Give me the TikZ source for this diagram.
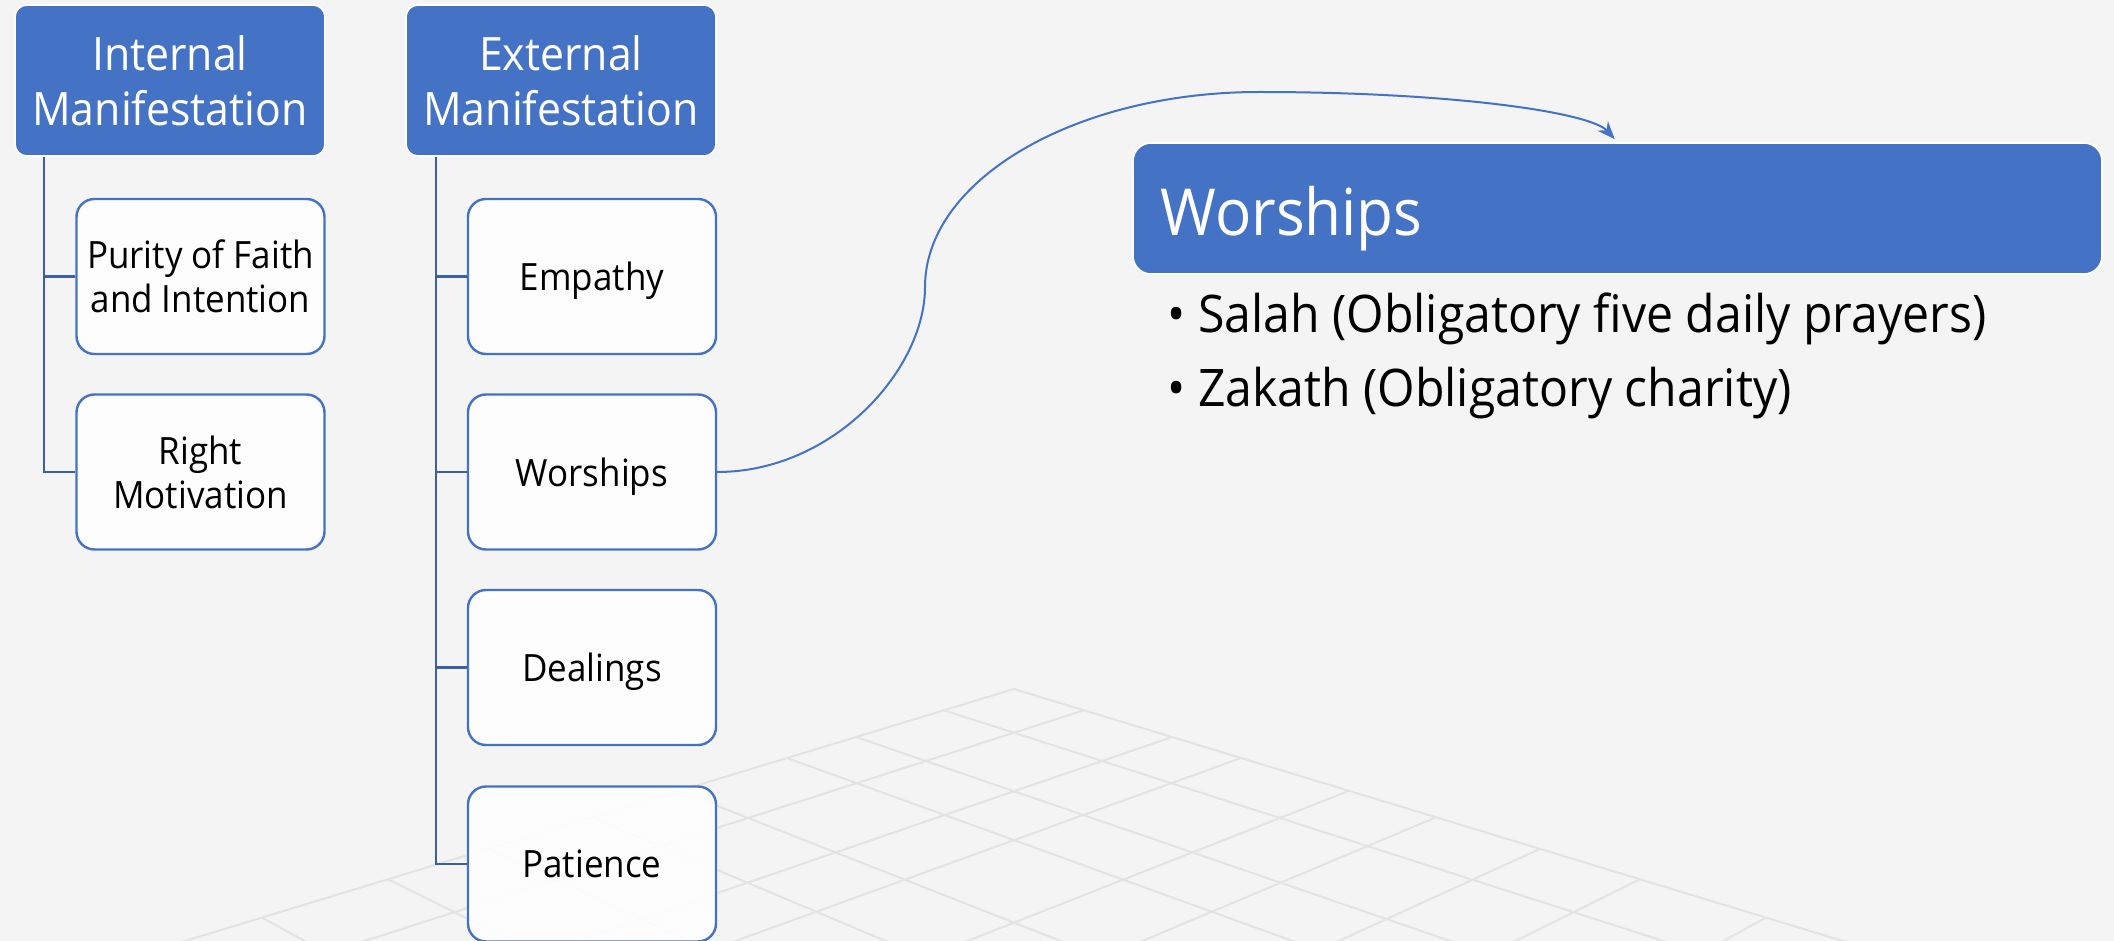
\documentclass[tikz,border=0pt]{standalone}
\usepackage{fontspec}
\setmainfont{Open Sans}[FakeStretch=0.93]
\usetikzlibrary{calc,arrows.meta}
\definecolor{bg}{HTML}{F4F4F4}
\definecolor{gridc}{HTML}{E3E3E3}
\definecolor{hblue}{HTML}{4472C4}
\definecolor{cblue}{HTML}{3A5FA8}
\begin{document}
\begin{tikzpicture}[x=0.5pt,y=-0.5pt,
  hdr/.style={rectangle, rounded corners=6pt, fill=hblue, draw=white, line width=0.8pt, text=white, align=center, font=\fontsize{23}{27.3}\selectfont, minimum width=155pt, minimum height=75.5pt, inner sep=0pt},
  child/.style={rectangle, rounded corners=9pt, fill=white, fill opacity=0.88, text opacity=1, draw=hblue, line width=1.2pt, align=center, font=\fontsize{18.8}{22}\selectfont, text depth=0pt, minimum width=124pt, minimum height=77.5pt, inner sep=0pt},
  bighdr/.style={rectangle, rounded corners=9pt, fill=hblue, draw=white, line width=0.8pt, minimum width=484.5pt, minimum height=65.5pt, inner sep=0pt},
  bigtext/.style={anchor=base west, text=white, font=\fontsize{32.4}{38}\selectfont, inner sep=0pt},
  bullet/.style={anchor=base west, font=\fontsize{25.9}{30}\selectfont, inner sep=0pt},
  tree/.style={draw=cblue, line width=1.25pt},
  curve/.style={draw=hblue, line width=1pt},
  gridline/.style={draw=gridc, line width=1pt, line join=miter}
]
\clip (0,0) rectangle (2114,941);
\fill[bg] (0,0) rectangle (2114,941);
% perspective floor grid
\begin{scope}
\coordinate (V) at (1014,689);
\coordinate (VA) at (-1595,-104);
\coordinate (VB) at (3623,-104);
\draw[gridline] ($(VB)!3!(V)$) -- (V) -- ($(VA)!3!(V)$);
\foreach \d in {70,158,227,335,422,526,626,752}{
  \coordinate (L) at ($(V)+(-\d,0.3039*\d)$);
  \coordinate (R) at ($(V)+(\d,0.3039*\d)$);
  \draw[gridline] (L) -- ($(VA)!3!(L)$);
  \draw[gridline] (R) -- ($(VB)!3!(R)$);
}
\end{scope}
% headers
\node[hdr] (intl) at (170,80.5) {Internal\\Manifestation};
\node[hdr] (extl) at (561,80.5) {External\\Manifestation};
% children
\node[child] (purity) at (200.5,276.5) {Purity of Faith\\and Intention};
\node[child] (rmot) at (200.5,472) {Right\\Motivation};
\node[child] (emp) at (592,276.5) {Empathy};
\node[child] (wor) at (592,472) {Worships};
\node[child] (deal) at (592,667.5) {Dealings};
\node[child] (pat) at (592,864) {Patience};
% tree connectors
\coordinate (ia) at (44,157);
\coordinate (ea) at (436,157);
\draw[tree] (ia) |- (purity.west);
\draw[tree] (ia) |- (rmot.west);
\draw[tree] (ea) |- (emp.west);
\draw[tree] (ea) |- (wor.west);
\draw[tree] (ea) |- (deal.west);
\draw[tree] (ea) |- (pat.west);
% detail panel
\node[bighdr] (bigw) at (1617.5,208.5) {};
\node[bigtext] (bigt) at (1160,235) {Worships};
\node[bullet] (b1) at (1167,332) {• Salah (Obligatory five daily prayers)};
\node[bullet] (b2) at (1167,406) {• Zakath (Obligatory charity)};
% curved arrow
\draw[curve, -{Stealth[length=9pt,width=7pt]}, shorten >=2pt] (wor.east) .. controls (833,472) and (925,370) .. (925,287) .. controls (925,180) and (1075,92) .. (1259,92) .. controls (1450,92) and (1590,112) .. (bigw.north);
\end{tikzpicture}
\end{document}
